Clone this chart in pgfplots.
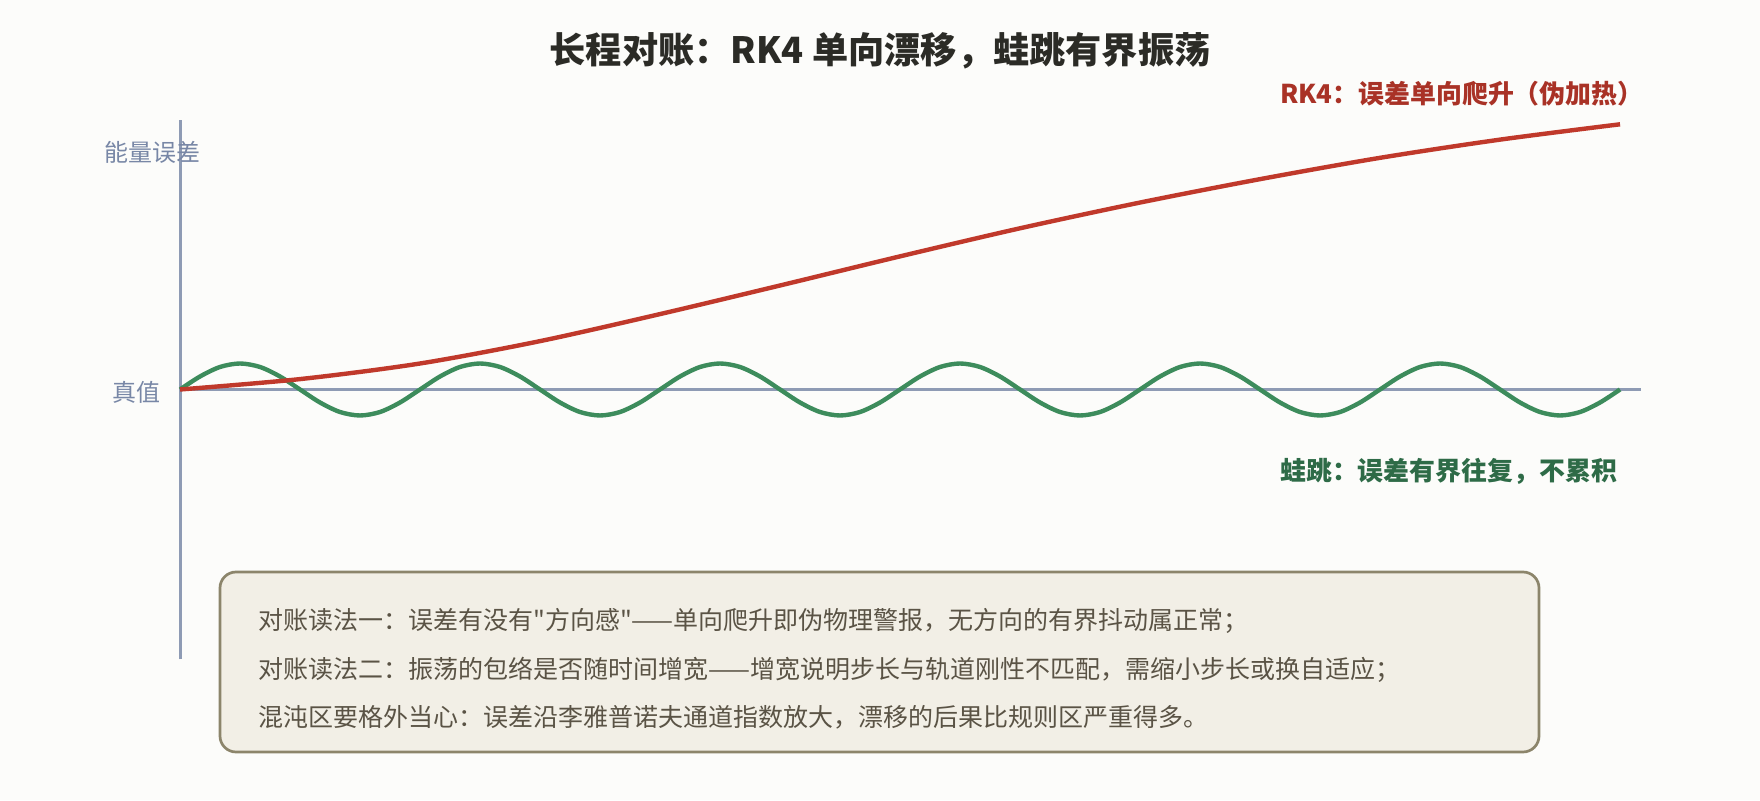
\documentclass[border=0pt]{standalone}
\usepackage{fontspec}
\setmainfont{Noto Sans CJK SC}[Ligatures=TeXOff]
\usepackage{pgfplots}
\pgfplotsset{compat=1.18}
\definecolor{bg}{HTML}{FCFCFA}
\definecolor{axisgray}{HTML}{8E9BB4}
\definecolor{labgray}{HTML}{7887A6}
\definecolor{rk}{HTML}{C0392B}
\definecolor{rklab}{HTML}{A93226}
\definecolor{lf}{HTML}{3D8C5C}
\definecolor{lflab}{HTML}{2E6B47}
\definecolor{boxfill}{HTML}{F2EFE6}
\definecolor{boxline}{HTML}{8C856B}
\definecolor{boxtext}{HTML}{5A5345}
\definecolor{titlec}{HTML}{2B2B26}

\pgfplotstableread{
x y
0 0
0.5 0.40
1.0 1.00
1.5 1.86
2.0 2.90
2.5 4.00
3.0 5.12
3.5 6.20
4.0 7.19
4.5 8.09
5.0 8.91
5.5 9.61
6.0 10.20
}\rkdata

\pgfplotstableread{
x y
0 0
0.0833 0.5
0.1667 0.866
0.25 1
0.3333 0.866
0.4167 0.5
0.5 0
0.5833 -0.5
0.6667 -0.866
0.75 -1
0.8333 -0.866
0.9167 -0.5
1 0
1.0833 0.5
1.1667 0.866
1.25 1
1.3333 0.866
1.4167 0.5
1.5 0
1.5833 -0.5
1.6667 -0.866
1.75 -1
1.8333 -0.866
1.9167 -0.5
2 0
2.0833 0.5
2.1667 0.866
2.25 1
2.3333 0.866
2.4167 0.5
2.5 0
2.5833 -0.5
2.6667 -0.866
2.75 -1
2.8333 -0.866
2.9167 -0.5
3 0
3.0833 0.5
3.1667 0.866
3.25 1
3.3333 0.866
3.4167 0.5
3.5 0
3.5833 -0.5
3.6667 -0.866
3.75 -1
3.8333 -0.866
3.9167 -0.5
4 0
4.0833 0.5
4.1667 0.866
4.25 1
4.3333 0.866
4.4167 0.5
4.5 0
4.5833 -0.5
4.6667 -0.866
4.75 -1
4.8333 -0.866
4.9167 -0.5
5 0
5.0833 0.5
5.1667 0.866
5.25 1
5.3333 0.866
5.4167 0.5
5.5 0
5.5833 -0.5
5.6667 -0.866
5.75 -1
5.8333 -0.866
5.9167 -0.5
6 0
}\lfdata

\begin{document}
\begin{tikzpicture}[x=1pt,y=1pt]
\path[use as bounding box, fill=bg] (0,0) rectangle (1760,800);

\begin{axis}[
  at={(180pt,140.5pt)}, anchor=south west,
  scale only axis, width=1461pt, height=539.5pt,
  xmin=0, xmax=6.0875, ymin=-10.3846, ymax=10.365,
  hide axis, clip=false,
]
\draw[axisgray, line width=3pt] (axis cs:0,-10.3846) -- (axis cs:0,10.365);
\draw[axisgray, line width=3pt] (axis cs:0,0) -- (axis cs:6.0875,0);
\addplot[lf, line width=4.4pt, smooth] table[x=x,y=y] {\lfdata};
\addplot[rk, line width=4.4pt, smooth] table[x=x,y=y] {\rkdata};
\end{axis}

% title
\node[titlec, font=\fontsize{36.2pt}{42pt}\selectfont\bfseries, inner sep=0] at (880,749.5) {长程对账：RK4 单向漂移，蛙跳有界振荡};
% series labels
\node[rklab, font=\fontsize{25.9pt}{30pt}\selectfont\bfseries, anchor=west, inner sep=0] at (1280,706) {RK4：误差单向爬升（伪加热）};
\node[lflab, font=\fontsize{25.9pt}{30pt}\selectfont\bfseries, anchor=west, inner sep=0] at (1280,328.3) {蛙跳：误差有界往复，不累积};
% axis labels
\node[labgray, font=\fontsize{24pt}{28pt}\selectfont, inner sep=0] at (152,648) {能量误差};
\node[labgray, font=\fontsize{24pt}{28pt}\selectfont, anchor=east, inner sep=0] at (161,407.3) {真值};

% note box
\draw[boxline, fill=boxfill, line width=2.7pt, rounded corners=16pt] (220,48) rectangle (1539,228);
\begin{scope}[every node/.style={boxtext, font=\fontsize{25pt}{30pt}\selectfont, anchor=west, inner sep=0}]
\node at (258,179) {对账读法一：误差有没有"方向感"——单向爬升即伪物理警报，无方向的有界抖动属正常；};
\node at (258,130) {对账读法二：振荡的包络是否随时间增宽——增宽说明步长与轨道刚性不匹配，需缩小步长或换自适应；};
\node at (258,82.7) {混沌区要格外当心：误差沿李雅普诺夫通道指数放大，漂移的后果比规则区严重得多。};
\end{scope}
\end{tikzpicture}
\end{document}
